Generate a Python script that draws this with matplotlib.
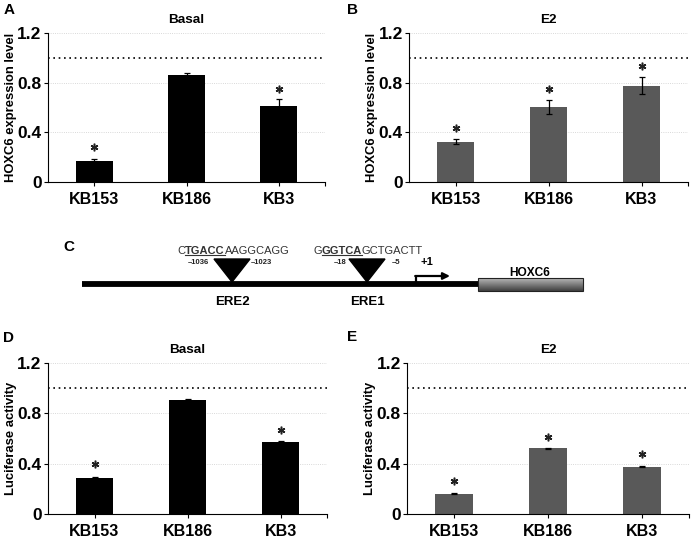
import numpy as np
import matplotlib
matplotlib.use("Agg")
from matplotlib import pyplot as plt
from matplotlib.patches import Rectangle

plt.rcParams['font.family'] = ['Liberation Sans', 'DejaVu Sans']
plt.rcParams['font.weight'] = 'bold'

cell_lines = ["KB153", "KB186", "KB3"]

# A: HOXC6 expression, basal
expr_basal = [0.17, 0.86, 0.61]
expr_basal_err = [0.014, 0.02, 0.06]
expr_basal_star = [0.28, None, 0.75]

# B: HOXC6 expression, E2
expr_e2 = [0.325, 0.607, 0.776]
expr_e2_err = [0.02, 0.057, 0.07]
expr_e2_star = [0.435, 0.75, 0.934]

# D: luciferase, basal
luc_basal = [0.289, 0.906, 0.576]
luc_basal_err = [0.006, 0.004, 0.006]
luc_basal_star = [0.40, None, 0.67]

# E: luciferase, E2
luc_e2 = [0.159, 0.522, 0.377]
luc_e2_err = [0.004, 0.005, 0.004]
luc_e2_star = [0.262, 0.612, 0.477]

yticks = [0, 0.4, 0.8, 1.2]
ytick_labels = ["0", "0.4", "0.8", "1.2"]

# C: promoter schematic
ere_names = ["ERE2", "ERE1"]
ere_seq = [("C", "TGACC", "AAGGCAGG"), ("G", "GGTCA", "GCTGACTT")]
ere_bounds = [("\u20131036", "\u20131023"), ("\u201318", "\u20135")]

W, H = 692, 538


def bar_panel(rect, vals, errs, stars, color, title, ylabel):
    wpx = rect[2] - rect[0]
    ax = fig.add_axes([rect[0] / W, 1 - rect[3] / H, wpx / W, (rect[3] - rect[1]) / H])
    x = np.arange(len(cell_lines))
    for yv in [0.4, 0.8, 1.2]:
        ax.axhline(yv, color='#cccccc', lw=0.6, ls=':', zorder=0)
    ax.axhline(1.0, color='k', lw=1.2, dashes=(1, 2.2), zorder=1)
    ax.bar(x, vals, width=0.4, color=color, zorder=2)
    ax.errorbar(x, vals, yerr=errs, fmt='none', ecolor='k', elinewidth=0.9, capsize=2.5, capthick=0.9, zorder=3)
    for xi, s in zip(x, stars):
        if s is not None:
            ax.plot(xi, s, marker=(6, 2, 0), ms=5.5, mew=1.1, color='#222222', zorder=3)
    ax.set_xlim(-0.5, 2.5)
    ax.set_ylim(0, 1.2)
    ax.set_yticks(yticks)
    ax.set_yticklabels(ytick_labels, fontsize=12.5, fontweight='bold')
    ax.set_xticks(x)
    ax.set_xticklabels(cell_lines, fontsize=11.5, fontweight='bold')
    ax.set_xticks([2.5], minor=True)
    ax.tick_params(axis='both', which='both', direction='out', length=3, width=0.8, color='k')
    ax.tick_params(axis='x', pad=4)
    ax.tick_params(axis='y', pad=1.5)
    for side in ['top', 'right']:
        ax.spines[side].set_visible(False)
    for side in ['left', 'bottom']:
        ax.spines[side].set_linewidth(0.8)
    ax.set_title(title, fontsize=9.7, fontweight='bold', pad=7)
    ax.set_ylabel(ylabel, fontsize=9.4, fontweight='bold')
    ax.yaxis.set_label_coords(-31 / wpx, 0.5)
    ax.set_facecolor('none')
    return ax


fig = plt.figure(figsize=(W / 100, H / 100), dpi=100)

# schematic axes in pixel coordinates
axc = fig.add_axes([0, 0, 1, 1], zorder=0)
axc.axis('off')

bar_panel((48, 33, 325, 182), expr_basal, expr_basal_err, expr_basal_star, 'black', "Basal", "HOXC6 expression level")
bar_panel((409, 33, 688, 182), expr_e2, expr_e2_err, expr_e2_star, '#595959', "E2", "HOXC6 expression level")
bar_panel((48, 363, 327, 514), luc_basal, luc_basal_err, luc_basal_star, 'black', "Basal", "Luciferase activity")
bar_panel((407, 363, 689, 514), luc_e2, luc_e2_err, luc_e2_star, '#595959', "E2", "Luciferase activity")

for lab, (px, py) in zip("ABCDE", [(9, 10), (353, 10), (69, 247), (9, 338), (352, 337)]):
    fig.text(px / W, 1 - py / H, lab, fontsize=11, fontweight='bold', ha='center', va='center')

# promoter line and gene box
axc.plot([82, 479], [284, 284], color='k', lw=4.2, solid_capstyle='butt', zorder=1)
grad = np.linspace(0.72, 0.25, 50).reshape(-1, 1)
axc.imshow(grad, cmap='gray', vmin=0, vmax=1, extent=(478, 583, 291, 278), origin='upper', aspect='auto', zorder=2)
axc.add_patch(Rectangle((478, 278), 105, 13, fill=False, ec='#222222', lw=0.8, zorder=3))
axc.text(530, 273, "HOXC6", fontsize=8.6, fontweight='bold', ha='center', va='center')

# transcription start
axc.plot([416, 416], [284, 276], color='k', lw=1.6, solid_capstyle='butt')
axc.annotate('', xy=(450, 276), xytext=(415.2, 276),
             arrowprops=dict(arrowstyle='-|>', lw=1.6, color='k', mutation_scale=10, shrinkA=0, shrinkB=0))
axc.text(427, 262, "+1", fontsize=8, fontweight='bold', ha='center', va='center')

ere_x = [232, 367]
seq_left = [177, 313]
bound_x = [(198, 261), (340, 396)]
cores = []
for cx, name, seq, bnd, sl, bx in zip(ere_x, ere_names, ere_seq, ere_bounds, seq_left, bound_x):
    axc.fill([cx - 18, cx + 18, cx], [259, 259, 282], color='k', zorder=3)
    axc.text(cx, 302, name, fontsize=9.5, fontweight='bold', ha='center', va='center')
    axc.text(bx[0], 263, bnd[0], fontsize=5.5, fontweight='bold', ha='center', va='center', color='#222222')
    axc.text(bx[1], 263, bnd[1], fontsize=5.5, fontweight='bold', ha='center', va='center', color='#222222')
    t1 = axc.text(sl, 254, seq[0], fontsize=8, fontweight='normal', ha='left', va='baseline', color='#333333')
    t2 = axc.annotate(seq[1], xy=(1, 0), xycoords=t1, fontsize=8, fontweight='bold',
                      ha='left', va='bottom', color='#333333')
    axc.annotate(seq[2], xy=(1, 0), xycoords=t2, fontsize=8, fontweight='normal',
                 ha='left', va='bottom', color='#333333')
    cores.append(t2)

axc.set_xlim(0, W)
axc.set_ylim(H, 0)

fig.canvas.draw()
inv = axc.transData.inverted()
for t in cores:
    bb = t.get_window_extent()
    (x0, y0), (x1, _) = inv.transform([(bb.x0, bb.y0 + 1.5), (bb.x1, bb.y0)])
    axc.plot([x0, x1], [y0, y0], color='#333333', lw=0.8)

fig.savefig("out.png", dpi=100)
